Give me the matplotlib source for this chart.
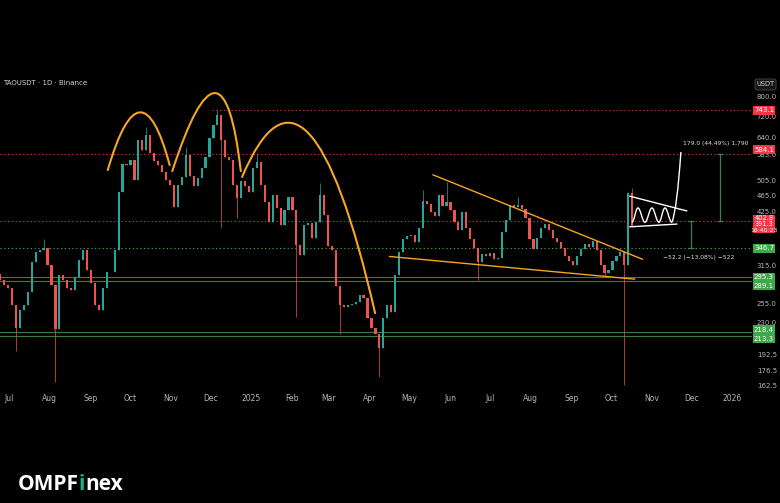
import numpy as np
import matplotlib
matplotlib.use("Agg")
import matplotlib.pyplot as plt
import matplotlib.dates as mdates
from matplotlib.path import Path
from matplotlib.patches import PathPatch, Rectangle, FancyBboxPatch
from matplotlib.transforms import IdentityTransform
from matplotlib.ticker import NullLocator

# ---------------- data ----------------
symbol_title = "TAOUSDT · 1D · Binance"
candle_start = "2024-06-24 06:00"
candle_step_days = 3
first_open = 300.0
closes = [
    291, 283, 278, 253, 223, 246, 253, 272, 321, 340,
    343, 347, 316, 283, 221, 299, 291, 278, 275, 296,
    325, 343, 307, 286, 253, 246, 278, 304, 304, 343,
    473, 552, 549, 565, 506, 631, 597, 648, 587, 562,
    549, 528, 506, 492, 435, 492, 514, 580, 517, 489,
    511, 540, 574, 638, 684, 724, 631, 574, 565, 492,
    458, 503, 489, 473, 540, 558, 492, 448, 401, 465,
    433, 394, 428, 460, 428, 353, 334, 394, 398, 367,
    401, 465, 417, 351, 343, 281, 253, 250, 253, 255,
    257, 268, 263, 236, 223, 215, 200, 236, 253, 244,
    299, 340, 365, 371, 373, 359, 388, 450, 443, 424,
    414, 465, 438, 448, 428, 401, 383, 424, 388, 365,
    347, 321, 336, 332, 338, 327, 328, 379, 405, 440,
    435, 440, 431, 410, 365, 345, 367, 388, 396, 383,
    367, 359, 347, 332, 323, 316, 332, 345, 355, 349,
    361, 343, 316, 302, 307, 323, 332, 340, 316, 470,
    391.3,
]
wick_lows = {4: 196, 14: 165, 56: 387, 60: 409, 75: 237, 86: 216,
             96: 170, 121: 291, 153: 296, 158: 162.5}
wick_highs = {11: 364, 37: 677, 47: 607, 55: 743, 65: 587, 81: 497,
              107: 478, 113: 500, 131: 459, 160: 484}

price_ticks = [800.0, 720.0, 640.0, 583.0, 505.0, 465.0, 425.0, 315.0,
               255.0, 230.0, 192.5, 176.5, 162.5]
month_ticks = ["2024-07-01", "2024-08-01", "2024-09-01", "2024-10-01",
               "2024-11-01", "2024-12-01", "2025-01-01", "2025-02-01",
               "2025-03-01", "2025-04-01", "2025-05-01", "2025-06-01",
               "2025-07-01", "2025-08-01", "2025-09-01", "2025-10-01",
               "2025-11-01", "2025-12-01", "2026-01-01"]
month_labels = ["Jul", "Aug", "Sep", "Oct", "Nov", "Dec", "2025", "Feb",
                "Mar", "Apr", "May", "Jun", "Jul", "Aug", "Sep", "Oct",
                "Nov", "Dec", "2026"]
x_range = ["2024-06-24 04:00", "2026-01-16 05:00"]
y_range = [158.1, 928.9]

red_levels = [743.1, 584.1, 402.8]
red_level_starts = ["2024-12-02", None, None]
green_dotted_level = 346.7
green_solid_levels = [295.3, 289.1, 218.4, 213.3]

# quadratic bezier arcs: start, control, end (date, price)
arcs = [
    (("2024-09-14", 534), ("2024-10-09", 998), ("2024-10-31", 549)),
    (("2024-11-02", 531), ("2024-12-10 12:00", 1259), ("2024-12-24", 531)),
    (("2024-12-25", 514), ("2025-02-13", 1218), ("2025-04-05", 242)),
]
wedge_upper = (("2025-05-19", 520), ("2025-10-25", 326))
wedge_lower = (("2025-04-16", 331), ("2025-10-19", 292))
pennant_upper = (("2025-10-15 12:00", 462), ("2025-11-27 14:00", 426))
pennant_lower = (("2025-10-15 12:00", 390), ("2025-11-20", 396))
wave_dates = ["2025-10-17", "2025-10-21 14:00", "2025-10-26 22:00",
              "2025-11-01 05:00", "2025-11-06 12:00", "2025-11-11 02:00",
              "2025-11-16 10:00"]
wave_prices = [400, 433, 400, 433, 400, 433, 400]
breakout = (("2025-11-16 10:00", 400), ("2025-11-20 05:00", 428),
            ("2025-11-23 05:00", 590))

measure_up = ("2025-12-23", 402.8, 584.1, "179.0 (44.49%) 1,790", 620)
measure_down = ("2025-12-01", 402.8, 346.7, "\u221252.2 (\u221213.08%) \u2212522", 330)

# axis boxes: text, price, kind, pixel shift (up positive)
axis_boxes = [
    ("743.1", 743.1, "red", 0),
    ("584.1", 584.1, "red", 4),
    ("346.7", 346.7, "green", 0),
    ("295.3", 295.3, "green", 0),
    ("289.1", 289.1, "green", -5),
    ("218.4", 218.4, "green", 2),
    ("213.3", 213.3, "green", -3),
]
last_box_lines = ["402.8", "391.3", "16:40:23"]
last_box_price = 402.8

# ---------------- style ----------------
BG = "#000000"
UP = "#26a69a"
DOWN = "#ef5350"
RED_BOX = "#f23645"
GREEN_BOX = "#3da94a"
TXT = "#b2b5be"
ORANGE = "#f5a623"

W, H = 780, 503
fig = plt.figure(figsize=(W / 100, H / 100), dpi=100, facecolor=BG)
ax_left, ax_right, ax_top, ax_bottom = 0, 752, 70, 390
ax = fig.add_axes([ax_left / W, 1 - ax_bottom / H, (ax_right - ax_left) / W,
                   (ax_bottom - ax_top) / H])
ax.set_facecolor(BG)
for s in ax.spines.values():
    s.set_visible(False)
ax.set_yscale("log")
d2n = mdates.datestr2num
ax.set_xlim(d2n(x_range[0]), d2n(x_range[1]))
ax.set_ylim(*y_range)

# candles
n = len(closes)
xs = d2n(candle_start) + np.arange(n) * candle_step_days
c = np.array(closes, dtype=float)
o = np.concatenate([[first_open], c[:-1]])
hi = np.maximum(o, c)
lo = np.minimum(o, c)
for k, v in wick_highs.items():
    hi[k] = v
for k, v in wick_lows.items():
    lo[k] = v
cols = np.where(c >= o, UP, DOWN)
ax.vlines(xs, lo, hi, colors=cols, lw=0.5, zorder=3)
body_lo = np.minimum(o, c)
body_h = np.maximum(np.abs(c - o), 0.5)
ax.bar(xs, body_h, bottom=body_lo, width=candle_step_days * 0.55,
       color=cols, linewidth=0, zorder=4)

# levels
xmax = d2n(x_range[1])
for lvl, st in zip(red_levels, red_level_starts):
    x0 = d2n(st) if st else d2n(x_range[0])
    ax.hlines(lvl, x0, xmax, colors="#c9304a", lw=0.8,
              linestyles=(0, (1.2, 2.2)), zorder=2)
ax.axhline(green_dotted_level, color="#3f9a4a", lw=0.8,
           ls=(0, (1.2, 2.2)), zorder=2)
for lvl in green_solid_levels:
    ax.axhline(lvl, color="#3a7d44", lw=0.8, zorder=2)

# arcs
for (p0, p1, p2) in arcs:
    verts = [(d2n(p0[0]), p0[1]), (d2n(p1[0]), p1[1]), (d2n(p2[0]), p2[1])]
    path = Path(verts, [Path.MOVETO, Path.CURVE3, Path.CURVE3])
    ax.add_patch(PathPatch(path, fill=False, ec=ORANGE, lw=1.5, zorder=6,
                           capstyle="round"))

# wedge lines
for (a, b) in (wedge_upper, wedge_lower):
    ax.plot([d2n(a[0]), d2n(b[0])], [a[1], b[1]], color=ORANGE, lw=1.0,
            zorder=6)

# pennant
for (a, b) in (pennant_upper, pennant_lower):
    ax.plot([d2n(a[0]), d2n(b[0])], [a[1], b[1]], color="white", lw=1.0,
            zorder=6)
wx = [d2n(d) for d in wave_dates]
verts = [(wx[0], wave_prices[0])]
codes = [Path.MOVETO]
for i in range(1, len(wx)):
    dx = wx[i] - wx[i - 1]
    verts += [(wx[i - 1] + 0.38 * dx, wave_prices[i - 1]),
              (wx[i] - 0.38 * dx, wave_prices[i]),
              (wx[i], wave_prices[i])]
    codes += [Path.CURVE4] * 3
ax.add_patch(PathPatch(Path(verts, codes), fill=False, ec="white", lw=1.0,
                       zorder=6))
bv = [(d2n(p[0]), p[1]) for p in breakout]
ax.add_patch(PathPatch(Path(bv, [Path.MOVETO, Path.CURVE3, Path.CURVE3]),
                       fill=False, ec="white", lw=1.0, zorder=6))

# measures
MEAS = "#3f7d4a"
for (d, p_from, p_to, label, label_p) in (measure_up, measure_down):
    xm = d2n(d)
    ax.vlines(xm, min(p_from, p_to), max(p_from, p_to), colors=MEAS, lw=0.9,
              zorder=6)
    ax.hlines([p_from, p_to], xm - 2.5, xm + 2.5, colors=MEAS, lw=0.9,
              zorder=6)
ax.text(d2n(measure_up[0]) - 3, measure_up[4], measure_up[3], color="#e0e0e0",
        fontsize=4.3, ha="center", va="center", zorder=7)
ax.text(d2n(measure_down[0]) + 6, measure_down[4], measure_down[3],
        color="#e0e0e0", fontsize=4.3, ha="center", va="center", zorder=7)

# axes ticks
ax.set_xticks([d2n(d) for d in month_ticks])
ax.set_xticklabels(month_labels)
ax.yaxis.tick_right()
ax.set_yticks(price_ticks)
ax.set_yticklabels([f"{v:.1f}" for v in price_ticks])
ax.yaxis.set_minor_locator(NullLocator())
ax.tick_params(axis="x", length=0, pad=3, labelsize=5.5, labelcolor=TXT)
ax.tick_params(axis="y", length=0, pad=3.5, labelsize=5.0, labelcolor=TXT)

# title
fig.text(3 / W, 1 - 83 / H, symbol_title, color="#d1d4dc", fontsize=5,
         va="center", ha="left")

# axis boxes
fig.canvas.draw()
def ydisp(p):
    return ax.transData.transform((ax.get_xlim()[0], p))[1]

bx0, bw, bh = 753, 22, 9
for text, p, kind, dy in axis_boxes:
    yc = ydisp(p) + dy
    colr = RED_BOX if kind == "red" else GREEN_BOX
    fig.add_artist(Rectangle((bx0, yc - bh / 2), bw, bh, transform=IdentityTransform(),
                             facecolor=colr, edgecolor="none", zorder=10))
    fig.text((bx0 + bw / 2) / W, yc / H, text, color="white", fontsize=5.0,
             ha="center", va="center", zorder=11)
yl = ydisp(last_box_price)
fig.add_artist(Rectangle((bx0, yl - 12.5), bw, 18.5, transform=IdentityTransform(),
                         facecolor=RED_BOX, edgecolor="none", zorder=10))
for i, t in enumerate(last_box_lines):
    fig.text((bx0 + bw / 2) / W, (yl + 2.5 - 6.0 * i) / H, t, color="white",
             fontsize=4.8 if i < 2 else 4.4, ha="center", va="center", zorder=11)

# USDT box
fig.add_artist(FancyBboxPatch((755, H - 90), 21, 11,
                              boxstyle="round,pad=0,rounding_size=2",
                              transform=IdentityTransform(), facecolor="#151515",
                              edgecolor="#4a4a4a", lw=0.6, zorder=10))
fig.text(765.5 / W, (H - 84.5) / H, "USDT", color="#d1d4dc", fontsize=4.8,
         ha="center", va="center", zorder=11)

# watermark
renderer = fig.canvas.get_renderer()
xw = 18 / W
yb = 1 - 490 / H
wm_kw = dict(fontsize=15, fontweight="bold", family="Open Sans", va="baseline",
             ha="left")
for part, colr in (("OMPF", "white"), ("i", "#19b38a"), ("nex", "white")):
    t = fig.text(xw, yb, part, color=colr, **wm_kw)
    bb = t.get_window_extent(renderer)
    xw = (bb.x1) / W

fig.savefig("out.png", dpi=100, facecolor=BG)
